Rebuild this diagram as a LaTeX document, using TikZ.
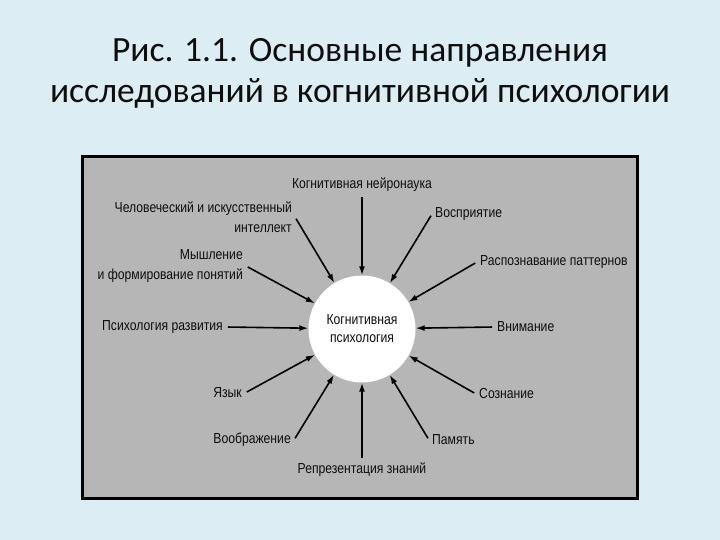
\documentclass[tikz,border=0pt]{standalone}
\usepackage{fontspec}
\setmainfont{Carlito}
\newfontfamily\lblfont[FakeStretch=0.84]{Liberation Sans}
\usetikzlibrary{arrows.meta}
\definecolor{slide}{RGB}{220,237,244}
\definecolor{panel}{RGB}{182,182,182}
\definecolor{ink}{RGB}{14,14,14}
\tikzset{
    lbl/.style={font=\lblfont\fontsize{14.5}{20}\selectfont, text=ink, inner sep=3pt},
    arr/.style={-{Latex[length=9pt,width=6pt]}, line width=1.6pt, shorten <=2pt},
}

\begin{document}
\begin{tikzpicture}[x=1pt,y=-1pt]
    \fill[slide] (0,0) rectangle (720,540);
    \useasboundingbox (0,0) rectangle (720,540);
    \node[align=center, text=ink, font=\fontsize{35.5}{41}\selectfont] (title) at (360,73)
        {Рис. 1.1. Основные направления\\исследований в когнитивной психологии};
    \begin{scope}
        \draw[line width=3pt, fill=panel] (82.5,156.5) rectangle (637.5,498.5);
        \node[lbl, circle, fill=white, minimum size=107pt, inner sep=0pt, align=center,
            font=\lblfont\fontsize{14.5}{18}\selectfont] (core) at (362,329) {Когнитивная\\психология};
        \node[lbl] (neuro) at (362,185) {Когнитивная нейронаука};
        \node[lbl, anchor=west] (percep) at (432,214) {Восприятие};
        \node[lbl, anchor=west] (pattern) at (477,262) {Распознавание паттернов};
        \node[lbl, anchor=west] (attent) at (494,327) {Внимание};
        \node[lbl, anchor=west] (consc) at (476,394) {Сознание};
        \node[lbl, anchor=west] (memory) at (429,440) {Память};
        \node[lbl] (repr) at (362,470) {Репрезентация знаний};
        \node[lbl, anchor=east] (imag) at (294,440) {Воображение};
        \node[lbl, anchor=east] (lang) at (245,393) {Язык};
        \node[lbl, anchor=east] (develop) at (226,327) {Психология развития};
        \node[lbl, anchor=east, align=right] (thinking) at (246,266) {Мышление\\и формирование понятий};
        \node[lbl, anchor=east, align=right] (human) at (295,217) {Человеческий и искусственный\\интеллект};
        \draw[arr] (neuro) -- (core);
        \draw[arr] (percep.west) -- (core);
        \draw[arr] (pattern.west) -- (core);
        \draw[arr] (attent.west) -- (core);
        \draw[arr] (consc.west) -- (core);
        \draw[arr] (memory.west) -- (core);
        \draw[arr] (repr) -- (core);
        \draw[arr] (imag.east) -- (core);
        \draw[arr] (lang.east) -- (core);
        \draw[arr] (develop.east) -- (core);
        \draw[arr] (thinking.east) -- (core);
        \draw[arr] (human.east) -- (core);
    \end{scope}
\end{tikzpicture}
\end{document}
